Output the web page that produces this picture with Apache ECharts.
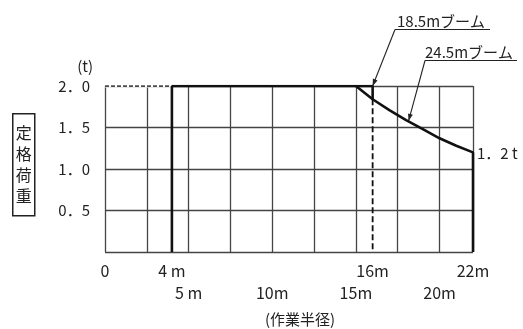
<!DOCTYPE html>
<html>
<head>
<meta charset="utf-8">
<script src="https://cdn.jsdelivr.net/npm/echarts@6/dist/echarts.min.js"></script>
<style>
    html, body { margin: 0; background: #ffffff; }
    #chart { width: 523px; height: 329px; }
</style>
</head>
<body>
<div id="chart"></div>
<script>
    // 作業半径 (m) の目盛
    const row1Ticks = [0, 4, 16, 22];
    const row1Labels = ['0', '4 m', '16m', '22m'];
    const row2Ticks = [5, 10, 15, 20];
    const row2Labels = ['5 m', '10m', '15m', '20m'];
    // 定格荷重 (t) の目盛
    const loadTicks = [0.5, 1.0, 1.5, 2.0];
    const loadLabels = ['0．5', '1．0', '1．5', '2．0'];

    // 各ラインのデータ [作業半径, 定格荷重]
    const shortRange = [[0, 2.0], [4, 2.0]];
    const minRadius = [[4, 0], [4, 2.0]];
    const boom185 = [[4, 2.0], [16, 2.0], [16, 1.84]];
    const boom185Limit = [[16, 1.84], [16, 0]];
    const boom245 = [[15, 2.0], [16, 1.84], [17, 1.71], [18, 1.59], [19, 1.48], [20, 1.37], [21, 1.28], [22, 1.2], [22, 0]];
    const boom245Tip = [18.15, 1.58];
    const boom185Tip = [16, 2.0];

    const font = 'Noto Sans CJK JP';
    const ink = '#222';
    const gridColor = '#444';

    const pickLabel = (ticks, labels) => v => {
        const i = ticks.indexOf(v);
        return i < 0 ? '' : labels[i];
    };

    const labelAxis = (ticks, labels, margin) => ({
        type: 'value', min: 0, max: 22, interval: 1, position: 'bottom',
        axisLine: {show: false}, axisTick: {show: false}, splitLine: {show: false},
        axisLabel: {
            formatter: pickLabel(ticks, labels), margin: margin,
            fontFamily: font, fontSize: 16, color: ink, showMaxLabel: true, showMinLabel: true
        }
    });

    const thick = {color: '#111', width: 2.6};

    const myChart = echarts.init(document.getElementById('chart'));
    myChart.setOption({
        animation: false,
        grid: {left: 105, top: 86, right: 50, bottom: 77},
        xAxis: [
            {
                type: 'value', min: 0, max: 22, interval: 2.5, position: 'bottom',
                axisLine: {show: false}, axisTick: {show: false}, axisLabel: {show: false},
                splitLine: {show: true, lineStyle: {color: gridColor, width: 1.3}}
            },
            labelAxis(row1Ticks, row1Labels, 11),
            labelAxis(row2Ticks, row2Labels, 33)
        ],
        yAxis: {
            type: 'value', min: 0, max: 2.0, interval: 0.5,
            axisLine: {show: false}, axisTick: {show: false},
            splitLine: {show: true, lineStyle: {color: gridColor, width: 1.3}},
            axisLabel: {
                formatter: pickLabel(loadTicks, loadLabels), margin: 15,
                fontFamily: font, fontSize: 15, color: ink
            },
            name: '(t)', nameLocation: 'end', nameGap: 12,
            nameTextStyle: {fontFamily: font, fontSize: 15, color: ink, align: 'right', padding: [0, 12, 0, 0]}
        },
        series: [
            {
                // 上端の破線の下地
                type: 'line', data: shortRange, symbol: 'none', silent: true,
                lineStyle: {color: '#ffffff', width: 3}, z: 3
            },
            {
                type: 'line', data: shortRange, symbol: 'none',
                lineStyle: {color: '#111', width: 1.4, type: [4, 2]}, z: 4
            },
            {type: 'line', data: minRadius, symbol: 'none', lineStyle: thick, z: 5},
            {type: 'line', data: boom185, symbol: 'none', lineStyle: thick, z: 5},
            {
                type: 'line', data: boom185Limit, symbol: 'none',
                lineStyle: {color: '#111', width: 1.8, type: [6, 3]}, z: 4
            },
            {type: 'line', data: boom245, symbol: 'none', lineStyle: thick, z: 5}
        ]
    });

    function arrowHead(from, to, len, half) {
        const dx = to[0] - from[0], dy = to[1] - from[1];
        const d = Math.sqrt(dx * dx + dy * dy);
        const ux = dx / d, uy = dy / d;
        const bx = to[0] - ux * len, by = to[1] - uy * len;
        return [[to[0], to[1]], [bx - uy * half, by + ux * half], [bx + uy * half, by - ux * half]];
    }

    const tip185 = myChart.convertToPixel({gridIndex: 0}, boom185Tip);
    const tip245 = myChart.convertToPixel({gridIndex: 0}, boom245Tip);
    const start185 = [395, 29.5];
    const start245 = [425, 60.5];
    const lineStyle = {stroke: ink, lineWidth: 1.1};

    myChart.setOption({
        graphic: [
            {
                type: 'text', left: 12, top: 113,
                style: {
                    text: '定\n格\n荷\n重', font: '16px "' + font + '"', fill: ink,
                    lineHeight: 21, padding: [9, 3, 9, 3], borderColor: '#222', borderWidth: 1.5
                }
            },
            {
                type: 'text', x: 300, y: 319,
                style: {text: '(作業半径)', font: '15px "' + font + '"', fill: ink, align: 'center', verticalAlign: 'middle'}
            },
            {
                type: 'text', x: 397, y: 21,
                style: {text: '18.5mブーム', font: '15px "' + font + '"', fill: ink, verticalAlign: 'middle'}
            },
            {type: 'line', shape: {x1: start185[0], y1: start185[1], x2: 490, y2: start185[1]}, style: lineStyle},
            {type: 'line', shape: {x1: start185[0], y1: start185[1], x2: tip185[0], y2: tip185[1]}, style: lineStyle},
            {type: 'polygon', shape: {points: arrowHead(start185, tip185, 7, 2.5)}, style: {fill: ink}},
            {
                type: 'text', x: 425, y: 52,
                style: {text: '24.5mブーム', font: '15px "' + font + '"', fill: ink, verticalAlign: 'middle'}
            },
            {type: 'line', shape: {x1: start245[0], y1: start245[1], x2: 517, y2: start245[1]}, style: lineStyle},
            {type: 'line', shape: {x1: start245[0], y1: start245[1], x2: tip245[0], y2: tip245[1]}, style: lineStyle},
            {type: 'polygon', shape: {points: arrowHead(start245, tip245, 7, 2.5)}, style: {fill: ink}},
            {
                type: 'text', x: 477, y: 153,
                style: {text: '1．2 t', font: '15px "' + font + '"', fill: ink, verticalAlign: 'middle'}
            }
        ]
    });
</script>
</body>
</html>
